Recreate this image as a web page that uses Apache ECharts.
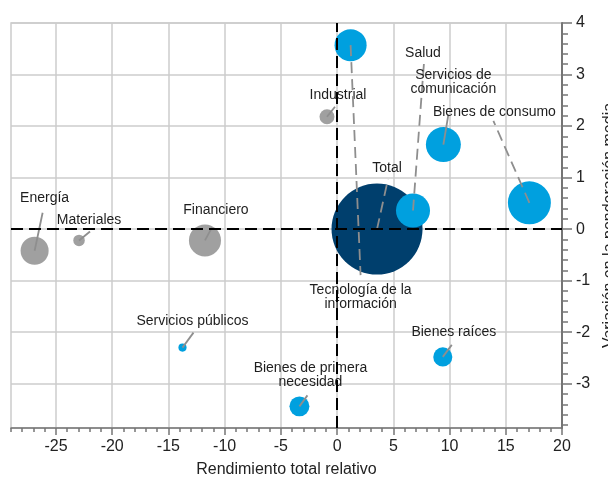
<!DOCTYPE html>
<html>
<head>
<meta charset="utf-8">
<script src="https://cdn.jsdelivr.net/npm/echarts@6/dist/echarts.min.js"></script>
<style>
html,body{margin:0;padding:0;background:#ffffff;}
#chart{width:608px;height:477px;}
</style>
</head>
<body>
<div id="chart"></div>
<script>
// ---- data ----
const sectors = ['Energía', 'Materiales', 'Financiero', 'Industrial', 'Tecnología de la\ninformación', 'Total', 'Salud', 'Servicios de\ncomunicación', 'Bienes de consumo', 'Servicios públicos', 'Bienes raíces', 'Bienes de primera\nnecesidad'];
const relativeReturn = [-26.9, -22.95, -11.75, -0.9, 1.2, 3.55, 6.75, 9.45, 17.1, -13.75, 9.4, -3.35];
const weightChange = [-0.42, -0.22, -0.22, 2.18, 3.57, 0.0, 0.36, 1.64, 0.51, -2.3, -2.48, -3.44];
const indexWeight = [9.5, 1.6, 12.4, 2.7, 12.4, 100, 14.0, 14.8, 22.3, 0.8, 4.4, 4.8];
const sectorGroup = ['neutral', 'neutral', 'neutral', 'neutral', 'sobre', 'total', 'sobre', 'sobre', 'sobre', 'sobre', 'sobre', 'sobre'];
const xTickLabels = [-25, -20, -15, -10, -5, 0, 5, 10, 15, 20];
const yTickLabels = [-3, -2, -1, 0, 1, 2, 3, 4];

// ---- layout / style (pixel offsets from each bubble centre) ----
const groupColor = { neutral: '#a0a0a0', sobre: '#00a0df', total: '#003f6d' };
const labelOffset = [[10, -53], [10, -20], [11, -30], [11, -22], [10, 252], [10, -61], [10, -157], [10, -62], [-35, -91], [10, -26], [11, -25], [11, -31]];
const leaderEnd = [[8, -38], [11, -9], [7, -13], [8, -10], [10, 230], [11, -50], [11, -148], [5, -30], [-36, -82], [11, -15], [9, -12], [8, -11]];
const leaderDashed = [false, false, false, false, true, true, true, false, true, false, false, false];
const yMinor = [];
for (let v = -38; v <= 40; v += 2) yMinor.push(v / 10);

const FONT = '"Liberation Sans", Arial, Helvetica, sans-serif';
const chart = echarts.init(document.getElementById('chart'));

const points = relativeReturn.map((x, i) => ({
  value: [x, weightChange[i], indexWeight[i]],
  itemStyle: { color: groupColor[sectorGroup[i]] }
}));

chart.setOption({
  animation: false,
  grid: { left: 11, right: 46, top: 23, bottom: 49, outerBoundsMode: 'none', containLabel: false, show: true, borderColor: '#cccccc', borderWidth: 1.5, backgroundColor: 'transparent' },
  xAxis: [{
    type: 'value', min: -29, max: 20, position: 'bottom',
    name: 'Rendimiento total relativo', nameLocation: 'middle', nameGap: 34,
    nameTextStyle: { fontFamily: FONT, fontSize: 16, color: '#222' },
    axisLine: { show: true, onZero: false, lineStyle: { color: '#757575', width: 1.5 } },
    axisTick: { show: true, customValues: xTickLabels, length: 7, lineStyle: { color: '#757575', width: 1.5 } },
    axisLabel: { customValues: xTickLabels, fontFamily: FONT, fontSize: 16, color: '#222', margin: 11 },
    splitLine: { show: true, lineStyle: { color: '#cccccc', width: 1.5 } }
  }, {
    type: 'value', min: -29, max: 20, interval: 1, position: 'bottom',
    axisLine: { show: false, onZero: false },
    axisTick: { show: true, length: 4, lineStyle: { color: '#757575', width: 1.5 } },
    axisLabel: { show: false },
    splitLine: { show: false }
  }],
  yAxis: [{
    type: 'value', min: -3.86, max: 4, position: 'right',
    name: 'Variación en la ponderación media', nameLocation: 'middle', nameGap: 37, nameRotate: 90,
    nameTextStyle: { fontFamily: FONT, fontSize: 16, color: '#222' },
    axisLine: { show: true, onZero: false, lineStyle: { color: '#757575', width: 2 } },
    axisTick: { show: true, customValues: yTickLabels, length: 10, lineStyle: { color: '#757575', width: 1.5 } },
    axisLabel: { customValues: yTickLabels, fontFamily: FONT, fontSize: 16, color: '#222', margin: 14 },
    splitLine: { show: true, lineStyle: { color: '#cccccc', width: 1.5 } }
  }, {
    type: 'value', min: -3.86, max: 4, position: 'right',
    axisLine: { show: false, onZero: false },
    axisTick: { show: true, customValues: yMinor, length: 6, lineStyle: { color: '#757575', width: 1.5 } },
    axisLabel: { show: false },
    splitLine: { show: false }
  }],
  series: [{
    type: 'scatter',
    xAxisIndex: 0, yAxisIndex: 0,
    data: points,
    symbolSize: v => 91 * Math.sqrt(v[2] / 100),
    itemStyle: { opacity: 1 },
    z: 2,
    markLine: {
      silent: true, symbol: 'none', label: { show: false }, z: 10,
      lineStyle: { color: '#000', type: [12, 6], width: 2 },
      data: [{ xAxis: 0 }, { yAxis: 0 }]
    }
  }, {
    type: 'custom',
    xAxisIndex: 0, yAxisIndex: 0,
    clip: false, z: 4,
    data: relativeReturn.map((x, i) => [x, weightChange[i]]),
    renderItem: function (params, api) {
      const i = params.dataIndex;
      const p = api.coord([api.value(0), api.value(1)]);
      const le = leaderEnd[i], lo = labelOffset[i];
      return {
        type: 'group',
        children: [{
          type: 'line',
          shape: { x1: p[0], y1: p[1], x2: p[0] + le[0], y2: p[1] + le[1] },
          style: { stroke: '#8e8e8e', lineWidth: 1.8, lineDash: leaderDashed[i] ? [11, 6] : null }
        }, {
          type: 'text',
          x: p[0] + lo[0], y: p[1] + lo[1],
          style: { text: sectors[i], fill: '#1e1e1e', font: '14px ' + FONT, align: 'center', verticalAlign: 'middle', lineHeight: 14 }
        }]
      };
    }
  }]
});
</script>
</body>
</html>
